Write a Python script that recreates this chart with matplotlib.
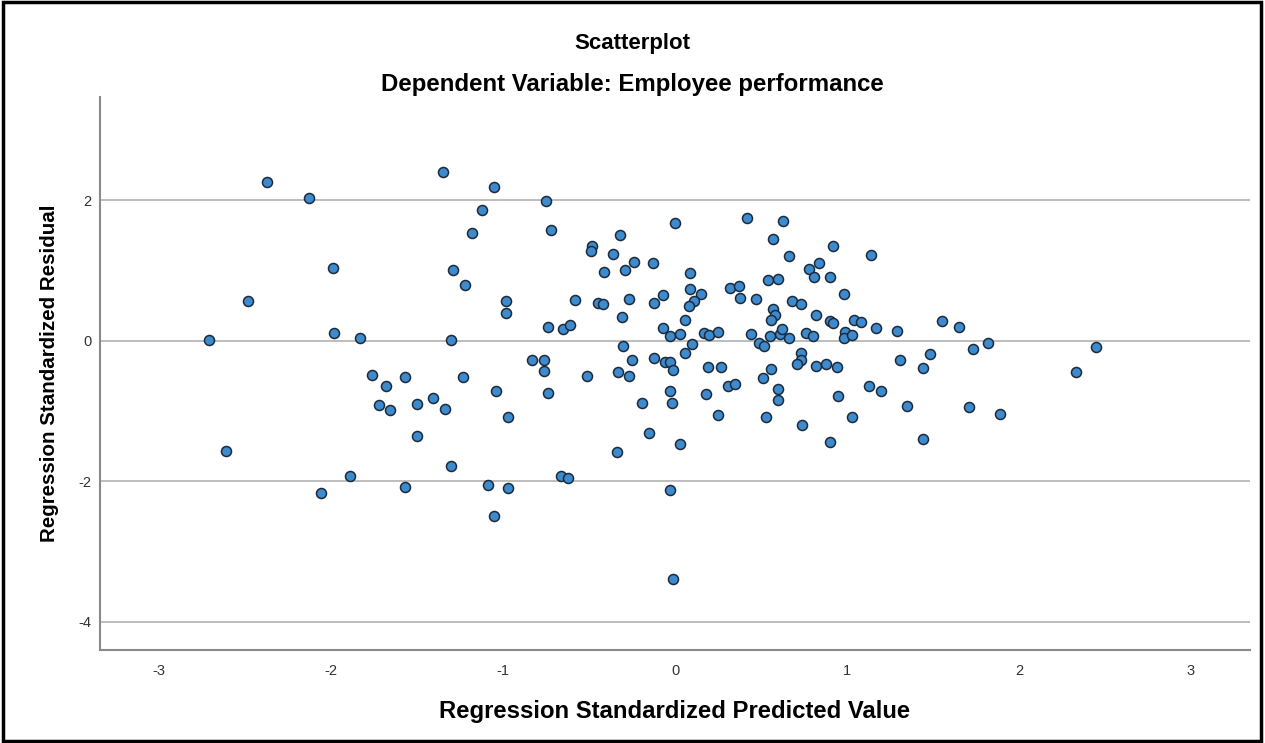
import matplotlib.pyplot as plt
import numpy as np

# regression standardized predicted values (x) and residuals (y)
predicted = [
    -2.37, -2.13, -1.99, -2.48, -2.71, -1.98, -1.83, -1.76, -1.68, -1.72, -1.66, -2.61, -1.89, -2.06,
    -1.35, -1.05, -0.75, -1.12, -1.18, -0.72, -0.32, -0.48, -0.49, -0.36, -0.24, -0.13, -0.29, -0.41,
    -1.29, -1.22, -0.98, -0.98, -0.58, -0.45, -0.42, -0.27, -0.07, -0.12, -0.31, -0.74, -0.65, -0.61,
    -0.07, -1.30, -0.30, -0.25, -0.12, -0.06, -0.83, -0.76, -0.76, -0.51, -0.33, -0.27, -1.57, -1.23,
    -1.04, -0.74, -1.50, -1.41, -1.34, -0.97, -0.19, -1.50, -0.15, -0.34, -1.30, -0.66, -0.62, -1.57,
    -1.09, -0.97,
    0.00, 0.42, 0.63, 0.57, 0.92, 1.14, 0.66, 0.84, 0.78, 0.81, 0.90, 0.09, 0.09, 0.54, 0.60, 0.32,
    0.37, 0.38, 0.47, 0.15, 0.11, 0.08, 0.98, 0.68, 0.73, 0.57, 0.58, 0.56, 0.82, 0.90, 0.92, 1.04,
    1.08, 0.06, -0.03, 0.03, 0.17, 0.20, 0.25, 0.44, 0.55, 0.61, 0.62, 0.66, 0.76, 0.80, 0.99, 0.98,
    1.03, 1.17, 1.29, 1.55, 0.49, 0.52, 0.10, 0.06, -0.03, -0.01, 0.19, 0.27, 0.56, 0.51, 0.73, 0.73,
    0.71, 0.82, 0.88, 0.94, 1.31, 1.48, 1.44, -0.03, -0.02, 0.18, 0.31, 0.35, 0.60, 0.60, 0.95, 1.13,
    1.20, 1.35, 0.25, 0.53, 0.74, 1.03, 0.03, 0.90, 1.44, -0.03,
    1.65, 1.82, 1.73, 2.45, 2.33, 1.71, 1.89, -1.05, -0.01,
]
residual = [
    2.26, 2.03, 1.04, 0.57, 0.01, 0.11, 0.04, -0.49, -0.65, -0.92, -0.99, -1.57, -1.92, -2.16,
    2.40, 2.19, 1.99, 1.86, 1.53, 1.57, 1.50, 1.35, 1.27, 1.23, 1.12, 1.10, 1.00, 0.97,
    1.01, 0.79, 0.57, 0.40, 0.58, 0.54, 0.52, 0.60, 0.65, 0.53, 0.33, 0.19, 0.17, 0.23,
    0.18, 0.01, -0.08, -0.27, -0.25, -0.30, -0.28, -0.27, -0.43, -0.50, -0.44, -0.50, -0.52, -0.52,
    -0.71, -0.75, -0.90, -0.82, -0.97, -1.08, -0.88, -1.36, -1.31, -1.59, -1.78, -1.92, -1.96, -2.08,
    -2.06, -2.10,
    1.67, 1.74, 1.70, 1.44, 1.35, 1.22, 1.20, 1.11, 1.02, 0.91, 0.91, 0.96, 0.74, 0.86, 0.88, 0.75,
    0.78, 0.61, 0.60, 0.66, 0.56, 0.50, 0.67, 0.57, 0.52, 0.45, 0.36, 0.29, 0.36, 0.28, 0.25, 0.30,
    0.27, 0.29, 0.07, 0.09, 0.11, 0.08, 0.12, 0.09, 0.06, 0.09, 0.17, 0.04, 0.11, 0.07, 0.12, 0.04,
    0.08, 0.18, 0.14, 0.28, -0.04, -0.07, -0.05, -0.18, -0.31, -0.42, -0.38, -0.38, -0.41, -0.53, -0.18, -0.27,
    -0.33, -0.36, -0.33, -0.38, -0.27, -0.19, -0.39, -0.71, -0.89, -0.76, -0.65, -0.61, -0.69, -0.84, -0.78, -0.64,
    -0.71, -0.93, -1.06, -1.09, -1.20, -1.09, -1.47, -1.44, -1.40, -2.12,
    0.20, -0.04, -0.12, -0.09, -0.45, -0.95, -1.05, -2.49, -3.39,
]
x_ticks = [-3, -2, -1, 0, 1, 2, 3]
y_ticks = [-4, -2, 0, 2]

plt.rcParams['font.family'] = ['Liberation Sans', 'DejaVu Sans']
plt.rcParams['axes.unicode_minus'] = False  # SPSS uses a plain hyphen

fig = plt.figure(figsize=(12.65, 7.43), dpi=100)
ax = fig.add_axes([0.0791, 0.1252, 0.909, 0.7442])

# horizontal reference lines like the SPSS chart
for yv in y_ticks:
    ax.axhline(yv, color='#b8b8b8', lw=1.3, zorder=1)

ax.scatter(np.array(predicted), np.array(residual), s=52, facecolor='#3d8bcd',
           edgecolor='#1b2a3d', linewidth=1.1, zorder=3)

ax.set_xlim(-3.343, 3.343)
ax.set_ylim(-4.40, 3.466)
ax.set_xticks(x_ticks)
ax.set_yticks(y_ticks)
ax.tick_params(axis='both', length=0, labelsize=10.5, colors='#333333')
ax.tick_params(axis='x', pad=10)
ax.tick_params(axis='y', pad=6)

for side in ['top', 'right']:
    ax.spines[side].set_visible(False)
for side in ['left', 'bottom']:
    ax.spines[side].set_color('#8a8a8a')
    ax.spines[side].set_linewidth(1.5)

ax.set_xlabel('Regression Standardized Predicted Value', fontsize=17.2,
              fontweight='bold', labelpad=16)
ax.set_ylabel('Regression Standardized Residual', fontsize=14.8,
              fontweight='bold', labelpad=14)

fig.text(0.5, 1 - 43 / 743, 'Scatterplot', ha='center', va='center',
         fontsize=16, fontweight='bold')
fig.text(0.5, 1 - 85 / 743, 'Dependent Variable: Employee performance',
         ha='center', va='center', fontsize=17.3, fontweight='bold')

# black frame around the whole picture
fig.patches.append(plt.Rectangle((0.002, 0.003), 0.995, 0.994, transform=fig.transFigure,
                                 fill=False, edgecolor='black', linewidth=2.5))

fig.savefig('out.png', dpi=100)
